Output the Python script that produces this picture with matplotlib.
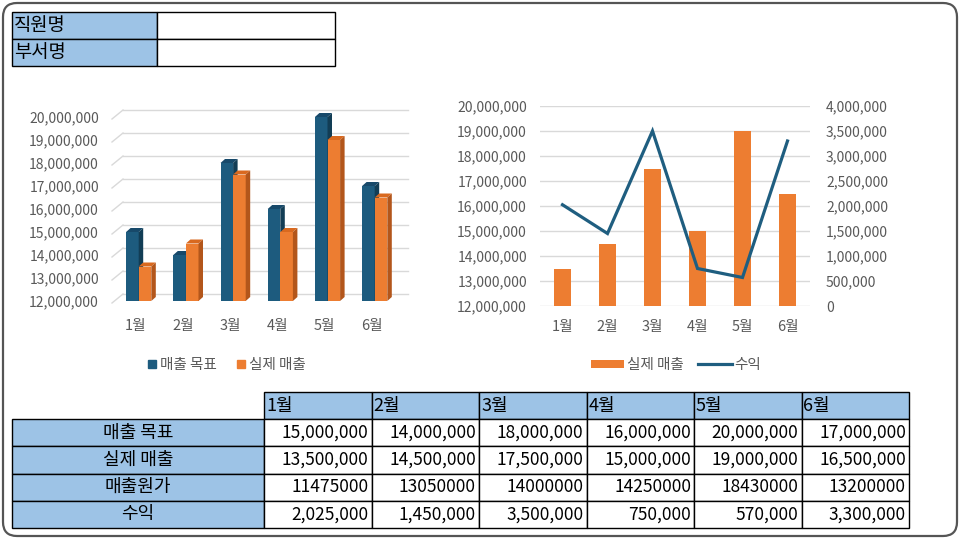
import numpy as np
import matplotlib
matplotlib.use('Agg')
import matplotlib.pyplot as plt
from matplotlib.patches import Rectangle, Polygon, FancyBboxPatch, Patch
from matplotlib.lines import Line2D

plt.rcParams['font.family'] = ['Noto Sans CJK KR', 'DejaVu Sans']

# ---------------- data ----------------
months = ['1월', '2월', '3월', '4월', '5월', '6월']
target = [15000000, 14000000, 18000000, 16000000, 20000000, 17000000]
actual = [13500000, 14500000, 17500000, 15000000, 19000000, 16500000]
cost = [11475000, 13050000, 14000000, 14250000, 18430000, 13200000]
profit = [2025000, 1450000, 3500000, 750000, 570000, 3300000]
row_labels = ['매출 목표', '실제 매출', '매출원가', '수익']
info_labels = ['직원명', '부서명']
left_ticks = np.arange(12000000, 20000001, 1000000)
right_ticks = np.arange(0, 4000001, 500000)
legend_left = ['매출 목표', '실제 매출']
legend_right = ['실제 매출', '수익']

# ---------------- style ----------------
BLUE = '#1D5B7E'
BLUE_TOP = '#17496A'
BLUE_SIDE = '#123D55'
ORANGE = '#ED7D31'
ORANGE_TOP = '#D9691F'
ORANGE_SIDE = '#B3561B'
LINE = '#1F5E80'
LIGHT = '#9DC3E6'
GRID = '#D9D9D9'
TXT = '#595959'

W, H = 960, 540
fig = plt.figure(figsize=(W / 100, H / 100), dpi=100, facecolor='white')


def px_axes(x0, y0, x1, y1):
    return fig.add_axes([x0 / W, 1 - y1 / H, (x1 - x0) / W, (y1 - y0) / H])


# ---------------- overlay (border + tables) ----------------
ov = px_axes(0, 0, W, H)
ov.set_xlim(0, W)
ov.set_ylim(H, 0)
ov.axis('off')

ov.add_patch(FancyBboxPatch((3, 3), 954, 533, boxstyle='round,pad=0,rounding_size=14',
                            fc='white', ec='#555555', lw=1.6, zorder=0))

# top info table
ty = [12, 39, 66]
for i, lab in enumerate(info_labels):
    ov.add_patch(Rectangle((12, ty[i]), 145, ty[i + 1] - ty[i], fc=LIGHT, ec='black', lw=1.0, zorder=2))
    ov.add_patch(Rectangle((157, ty[i]), 178, ty[i + 1] - ty[i], fc='white', ec='black', lw=1.0, zorder=2))
    ov.text(14, (ty[i] + ty[i + 1]) / 2, lab, fontsize=13.5, ha='left', va='center', color='black', zorder=3)

# bottom data table
col_edges = [264, 371.5, 479, 586.5, 694, 801.5, 909]
row_edges = [392, 419.2, 446.4, 473.6, 500.8, 528]
for j, m in enumerate(months):
    ov.add_patch(Rectangle((col_edges[j], row_edges[0]), col_edges[j + 1] - col_edges[j],
                           row_edges[1] - row_edges[0], fc=LIGHT, ec='black', lw=1.0, zorder=2))
    ov.text(col_edges[j] + 2, (row_edges[0] + row_edges[1]) / 2, m, fontsize=13,
            ha='left', va='center', color='black', zorder=3)

table_rows = [target, actual, cost, profit]
for r, (lab, vals) in enumerate(zip(row_labels, table_rows)):
    y0, y1 = row_edges[r + 1], row_edges[r + 2]
    ov.add_patch(Rectangle((12, y0), col_edges[0] - 12, y1 - y0, fc=LIGHT, ec='black', lw=1.0, zorder=2))
    ov.text((12 + col_edges[0]) / 2, (y0 + y1) / 2, lab, fontsize=13, ha='center', va='center',
            color='black', zorder=3)
    for j, v in enumerate(vals):
        ov.add_patch(Rectangle((col_edges[j], y0), col_edges[j + 1] - col_edges[j], y1 - y0,
                               fc='white', ec='black', lw=1.0, zorder=2))
        s = f'{v}' if lab == '매출원가' else f'{v:,}'
        ov.text(col_edges[j + 1] - 3, (y0 + y1) / 2, s, fontsize=12.5, ha='right', va='center',
                color='black', zorder=3)

# ---------------- left chart (3D-style clustered columns) ----------------
GX0, GSTEP = 138.7, 47.2      # pixel of first group centre and group spacing
PX_Y = 1e6 / 23.0             # data units per pixel (y)
axL = px_axes(112, 117, 408, 301)
xd = lambda p: (p - GX0) / GSTEP
axL.set_xlim(xd(112), xd(408))
axL.set_ylim(12e6, 20e6)
axL.patch.set_visible(False)
for s in axL.spines.values():
    s.set_visible(False)

dx, dy = 4.5 / GSTEP, 4 * PX_Y
bw = 12.6 / GSTEP
base = 12e6

for v in left_ticks:
    axL.plot([xd(112), xd(123)], [v - 2 * PX_Y, v + 7 * PX_Y], color=GRID, lw=1.0, clip_on=False, zorder=1)
    axL.plot([xd(123), xd(408)], [v + 7 * PX_Y, v + 7 * PX_Y], color=GRID, lw=1.0, clip_on=False, zorder=1)


def bar3d(xl, xr, v, cf, ct, cs):
    axL.add_patch(Rectangle((xl, base), xr - xl, v - base, fc=cf, ec='none', clip_on=False, zorder=3))
    axL.add_patch(Polygon([(xl, v), (xr, v), (xr + dx, v + dy), (xl + dx, v + dy)], closed=True,
                          fc=ct, ec='none', clip_on=False, zorder=3))
    axL.add_patch(Polygon([(xr, base), (xr + dx, base + dy), (xr + dx, v + dy), (xr, v)], closed=True,
                          fc=cs, ec='none', clip_on=False, zorder=3))


for i in range(len(months)):
    bar3d(i - bw, i, target[i], BLUE, BLUE_TOP, BLUE_SIDE)
    bar3d(i, i + bw, actual[i], ORANGE, ORANGE_TOP, ORANGE_SIDE)

axL.set_yticks(left_ticks, labels=[f'{v:,}' for v in left_ticks])
axL.set_xticks(np.arange(len(months)) - 2.7 / GSTEP, labels=months)
axL.tick_params(axis='y', length=0, pad=9.4, labelsize=10, labelcolor=TXT)
axL.tick_params(axis='x', length=0, pad=13, labelsize=10.5, labelcolor=TXT)

hl = [Line2D([], [], marker='s', ls='none', color=BLUE, markersize=6),
      Line2D([], [], marker='s', ls='none', color=ORANGE, markersize=6)]
fig.legend(hl, legend_left, loc='center', bbox_to_anchor=(226 / W, 1 - 365 / H), ncol=2,
           frameon=False, fontsize=10.5, handletextpad=0.1, columnspacing=1.3, handlelength=0.8,
           labelcolor=TXT)

# ---------------- right chart (bar + line, secondary axis) ----------------
axR = px_axes(540, 106, 810, 306)
x = np.arange(len(months))
axR.bar(x, np.array(actual) - base, bottom=base, width=0.37, color=ORANGE, zorder=2)
axR.set_xlim(-0.5, len(months) - 0.5)
axR.set_ylim(12e6, 20e6)
axR.set_yticks(left_ticks, labels=[f'{v:,}' for v in left_ticks])
axR.yaxis.grid(True, color=GRID, lw=1.0)
axR.set_axisbelow(True)
axR.set_xticks(x, labels=months)
axR.tick_params(axis='y', length=0, pad=9.4, labelsize=10, labelcolor=TXT)
axR.tick_params(axis='x', length=0, pad=10, labelsize=10.5, labelcolor=TXT)
axR.patch.set_visible(False)
for s in axR.spines.values():
    s.set_visible(False)

axR2 = axR.twinx()
axR2.plot(x, profit, color=LINE, lw=2.3, zorder=4, solid_joinstyle='miter')
axR2.set_ylim(0, 4e6)
axR2.set_yticks(right_ticks, labels=[f'{v:,}' for v in right_ticks])
axR2.tick_params(axis='y', length=0, pad=11.5, labelsize=10, labelcolor=TXT)
axR2.patch.set_visible(False)
for s in axR2.spines.values():
    s.set_visible(False)

hr = [Patch(fc=ORANGE, ec='none'), Line2D([], [], color=LINE, lw=2.3)]
fig.legend(hr, legend_right, loc='center', bbox_to_anchor=(676 / W, 1 - 365 / H), ncol=2,
           frameon=False, fontsize=10.5, handletextpad=0.2, columnspacing=1.0, handlelength=2.3,
           handleheight=0.5, labelcolor=TXT)

fig.savefig('out.png', dpi=100, facecolor='white')
